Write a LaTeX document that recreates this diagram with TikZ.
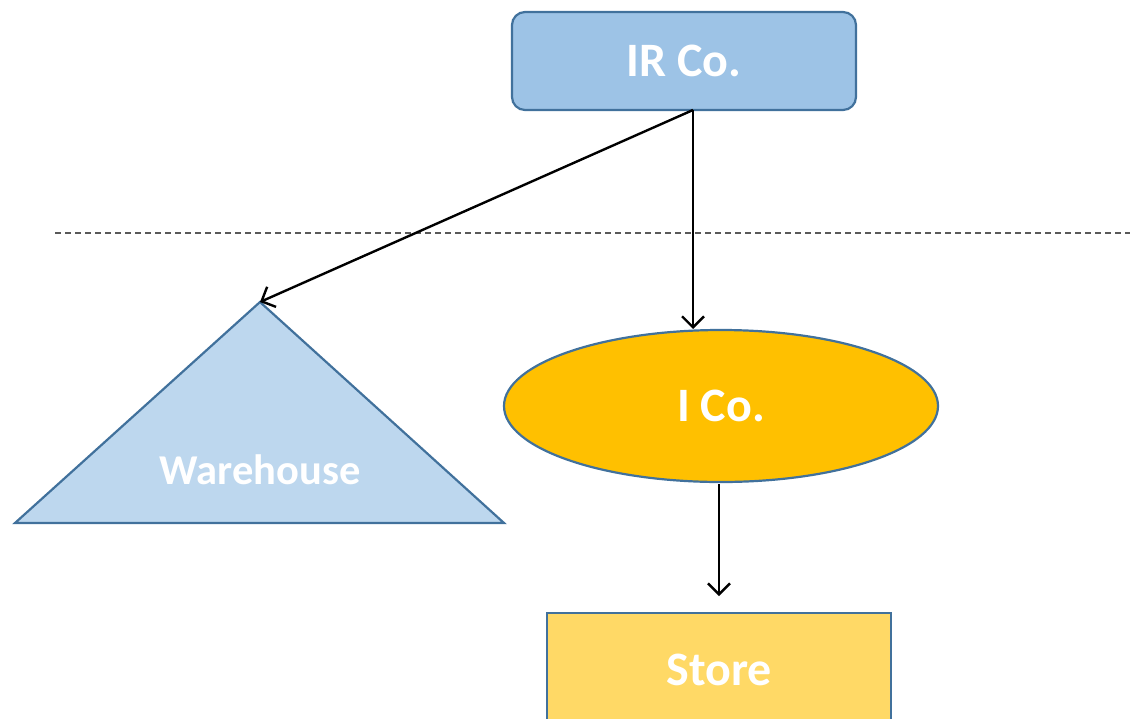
\documentclass[tikz,border=0pt]{standalone}
\usepackage{fontspec}
\setmainfont{Carlito}
\usetikzlibrary{shapes.geometric,arrows.meta}
\definecolor{bordc}{HTML}{41719C}
\definecolor{irfill}{HTML}{9DC3E6}
\definecolor{whfill}{HTML}{BDD7EE}
\definecolor{icfill}{HTML}{FFC000}
\definecolor{stfill}{HTML}{FFD966}
\definecolor{dashc}{HTML}{595959}
\tikzset{
  lbl/.style={text=white,font=\bfseries\fontsize{48}{56}\selectfont},
  conn/.style={draw=black,line width=2.4pt,-{Straight Barb[length=11pt,width=22pt,line width=2.4pt]}},
  shp/.style={draw=bordc,line width=2.2pt}
}
\begin{document}
\begin{tikzpicture}[x=1pt,y=-1pt]
\useasboundingbox (0,0) rectangle (1130,718);
\node[shp,fill=irfill,rounded corners=13pt,minimum width=344pt,minimum height=98pt,inner sep=0pt,lbl] (ir) at (684,61) {IR Co.};
\draw[dashc,line width=1.3pt,dash pattern=on 6pt off 4pt] (55,233) -- (1130,233);
\draw[shp,fill=whfill] (260,302) coordinate (apex) -- (504,523) -- (15,523) -- cycle;
\node[lbl,font=\bfseries\fontsize{42.5}{50}\selectfont] (wh) at (260,470) {Warehouse};
\node[shp,ellipse,fill=icfill,minimum width=434pt,minimum height=152pt,inner sep=0pt,lbl] (ic) at (721,406) {I Co.};
\draw[shp,fill=stfill] (547,613) rectangle (891,740);
\node[lbl] (st) at (719,670) {Store};
\coordinate (stTop) at (719,596);
\coordinate (irOut) at (693,110);
\coordinate (icIn) at (693,329);
\coordinate (icOut) at (719,484);
\draw[conn] (irOut) -- (icIn);
\draw[conn] (irOut) -- (apex);
\draw[conn] (icOut) -- (stTop);
\end{tikzpicture}
\end{document}
